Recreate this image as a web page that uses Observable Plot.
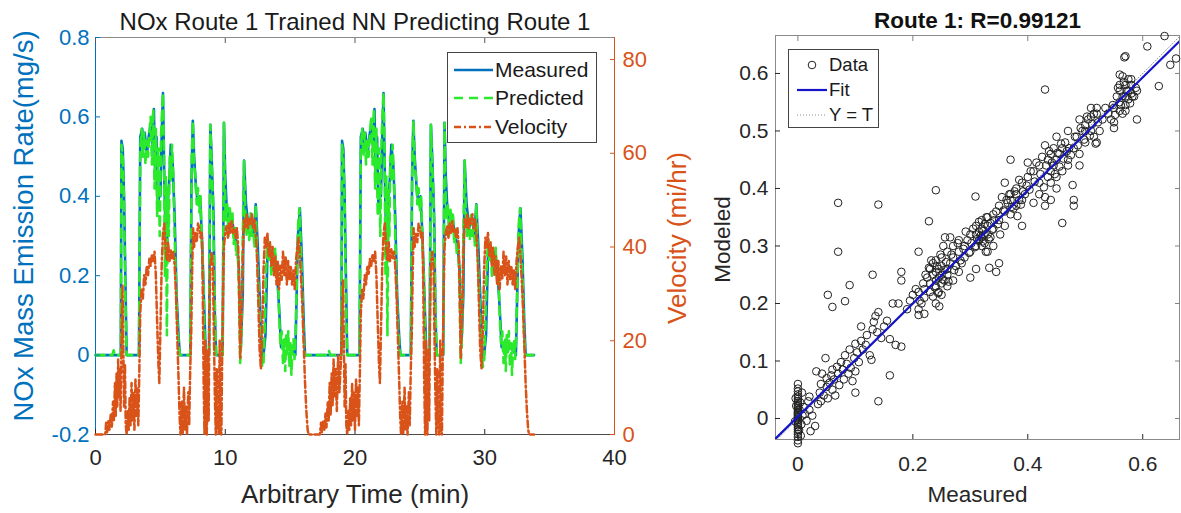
<!DOCTYPE html>
<html><head><meta charset="utf-8">
<script src="https://cdn.jsdelivr.net/npm/d3@7"></script>
<script src="https://cdn.jsdelivr.net/npm/@observablehq/plot@0.6"></script>
<style>
body{margin:0;background:#fff;font-family:"Liberation Sans",Arial,Helvetica,sans-serif;}
#wrap{position:relative;width:1181px;height:513px;overflow:hidden;background:#fff;}
.legend{position:absolute;background:#fff;border:1px solid #444;box-sizing:border-box;}
.legend svg{display:block;}
</style></head><body><div id="wrap"></div>
<script>
// ---------- Left panel data ----------
const leftTitle = "NOx Route 1 Trained NN Predicting Route 1";
const xLabelLeft = "Arbitrary Time (min)";
const noxLabel = "NOx Mass Emission Rate(mg/s)";
const velLabel = "Velocity (mi/hr)";
const timeTicks = [0, 10, 20, 30, 40];
const noxTicks = [-0.2, 0, 0.2, 0.4, 0.6, 0.8];
const velocityTicks = [0, 20, 40, 60, 80];
const legendLeft = ["Measured", "Predicted", "Velocity"];

// [time (min), NOx (mg/s)]
const measuredSeries = [[0,0],[1.95,0],[2.0,0.54],[2.1,0.52],[2.2,0.40],[2.3,0.2],[2.4,0],[3.35,0],[3.45,0.55],[3.6,0.57],[3.7,0.52],[3.8,0.56],[3.95,0.50],[4.1,0.55],[4.25,0.58],[4.4,0.52],[4.5,0.62],[4.6,0.45],[4.7,0.55],[4.8,0.38],[4.9,0.40],[5.0,0.40],[5.1,0.55],[5.2,0.66],[5.3,0.45],[5.4,0.30],[5.5,0.25],[5.6,0.40],[5.7,0.45],[5.8,0.53],[5.95,0.48],[6.1,0.35],[6.25,0.15],[6.4,0.05],[6.5,0],[7.3,0],[7.4,0.45],[7.5,0.59],[7.6,0.5],[7.75,0.42],[7.9,0.38],[8.05,0.40],[8.2,0.30],[8.35,0.15],[8.5,0],[8.75,0],[8.85,0.58],[8.95,0.5],[9.1,0.35],[9.2,0.1],[9.3,0],[9.8,0],[9.9,0.585],[10.0,0.45],[10.1,0.38],[10.3,0.33],[10.5,0.35],[10.7,0.30],[10.9,0.28],[11.05,0.22],[11.2,0.02],[11.35,0.15],[11.45,0.49],[11.6,0.38],[11.8,0.32],[12.0,0.35],[12.2,0.30],[12.35,0.38],[12.5,0.28],[12.65,0.15],[12.8,0],[12.95,0],[13.1,0.05],[13.25,0.25],[13.4,0.28],[13.6,0.22],[13.8,0.26],[14.0,0.2],[14.15,0.12],[14.3,0.02],[14.5,0.03],[15.0,0.02],[15.4,0],[15.6,0.3],[15.75,0.37],[15.9,0.25],[16.05,0.08],[16.15,0],
[18.95,0],[19.0,0.54],[19.1,0.52],[19.2,0.40],[19.3,0.2],[19.4,0],[20.35,0],[20.45,0.55],[20.6,0.57],[20.7,0.52],[20.8,0.56],[20.95,0.50],[21.1,0.55],[21.25,0.58],[21.4,0.52],[21.5,0.62],[21.6,0.45],[21.7,0.55],[21.8,0.38],[21.9,0.40],[22.0,0.40],[22.1,0.55],[22.2,0.66],[22.3,0.45],[22.4,0.30],[22.5,0.25],[22.6,0.40],[22.7,0.45],[22.8,0.53],[22.95,0.48],[23.1,0.35],[23.25,0.15],[23.4,0.05],[23.5,0],[24.3,0],[24.4,0.45],[24.5,0.59],[24.6,0.5],[24.75,0.42],[24.9,0.38],[25.05,0.40],[25.2,0.30],[25.35,0.15],[25.5,0],[25.75,0],[25.85,0.58],[25.95,0.5],[26.1,0.35],[26.2,0.1],[26.3,0],[26.8,0],[26.9,0.585],[27.0,0.45],[27.1,0.38],[27.3,0.33],[27.5,0.35],[27.7,0.30],[27.9,0.28],[28.05,0.22],[28.2,0.02],[28.35,0.15],[28.45,0.49],[28.6,0.38],[28.8,0.32],[29.0,0.35],[29.2,0.30],[29.35,0.38],[29.5,0.28],[29.65,0.15],[29.8,0],[29.95,0],[30.1,0.05],[30.25,0.25],[30.4,0.28],[30.6,0.22],[30.8,0.26],[31.0,0.2],[31.15,0.12],[31.3,0.02],[31.5,0.03],[32.0,0.02],[32.4,0],[32.6,0.3],[32.75,0.37],[32.9,0.25],[33.05,0.08],[33.15,0],[33.8,0]];

const predictedSeries = [[0,0],[1.3,0],[1.4,0.012],[1.5,0],[1.95,0],[2.0,0.53],[2.1,0.5],[2.2,0.38],[2.3,0.15],[2.4,0],[3.35,0],[3.45,0.52],[3.55,0.57],[3.65,0.5],[3.75,0.56],[3.85,0.48],[3.95,0.54],[4.05,0.5],[4.15,0.56],[4.25,0.6],[4.35,0.48],[4.45,0.62],[4.55,0.42],[4.65,0.57],[4.75,0.35],[4.85,0.52],[4.95,0.3],[5.05,0.55],[5.15,0.63],[5.2,0.66],[5.28,0.5],[5.35,0.2],[5.42,0.45],[5.5,0.05],[5.58,0.42],[5.65,0.3],[5.72,0.5],[5.8,0.44],[5.9,0.53],[6.0,0.45],[6.1,0.3],[6.2,0.18],[6.3,0.08],[6.42,0.02],[6.5,0],[7.3,0],[7.42,0.5],[7.5,0.59],[7.6,0.48],[7.7,0.45],[7.8,0.38],[7.9,0.42],[8.0,0.36],[8.1,0.4],[8.2,0.28],[8.3,0.2],[8.4,0.05],[8.5,0],[8.75,0],[8.85,0.58],[8.95,0.48],[9.05,0.4],[9.15,0.2],[9.25,0.05],[9.3,0],[9.8,0],[9.9,0.585],[9.98,0.42],[10.05,0.34],[10.15,0.38],[10.25,0.3],[10.35,0.37],[10.45,0.33],[10.55,0.36],[10.65,0.28],[10.75,0.32],[10.85,0.25],[10.95,0.27],[11.05,0.18],[11.15,-0.02],[11.25,0.05],[11.35,0.3],[11.45,0.49],[11.55,0.35],[11.65,0.3],[11.75,0.34],[11.85,0.29],[11.95,0.36],[12.05,0.3],[12.15,0.33],[12.25,0.27],[12.35,0.38],[12.45,0.25],[12.55,0.18],[12.7,0.05],[12.85,-0.03],[12.95,-0.02],[13.05,0.08],[13.15,0.22],[13.25,0.29],[13.35,0.24],[13.45,0.28],[13.55,0.2],[13.65,0.25],[13.75,0.21],[13.85,0.27],[13.95,0.19],[14.05,0.22],[14.15,0.1],[14.25,0.03],[14.35,0.06],[14.45,-0.02],[14.55,0.04],[14.62,-0.04],[14.7,0.05],[14.78,0],[14.86,0.06],[14.94,-0.03],[15.02,0.03],[15.1,-0.05],[15.18,0.02],[15.26,0.04],[15.34,-0.01],[15.42,0.05],[15.52,0.2],[15.62,0.33],[15.72,0.37],[15.82,0.28],[15.92,0.18],[16.02,0.06],[16.12,0],
[17.9,0],[18.0,0.01],[18.1,0],[18.95,0],[19.0,0.53],[19.1,0.5],[19.2,0.38],[19.3,0.15],[19.4,0],[20.35,0],[20.45,0.52],[20.55,0.57],[20.65,0.5],[20.75,0.56],[20.85,0.48],[20.95,0.54],[21.05,0.5],[21.15,0.56],[21.25,0.6],[21.35,0.48],[21.45,0.62],[21.55,0.42],[21.65,0.57],[21.75,0.35],[21.85,0.52],[21.95,0.3],[22.05,0.55],[22.15,0.63],[22.2,0.66],[22.28,0.5],[22.35,0.2],[22.42,0.45],[22.5,0.05],[22.58,0.42],[22.65,0.3],[22.72,0.5],[22.8,0.44],[22.9,0.53],[23.0,0.45],[23.1,0.3],[23.2,0.18],[23.3,0.08],[23.42,0.02],[23.5,0],[24.3,0],[24.42,0.5],[24.5,0.59],[24.6,0.48],[24.7,0.45],[24.8,0.38],[24.9,0.42],[25.0,0.36],[25.1,0.4],[25.2,0.28],[25.3,0.2],[25.4,0.05],[25.5,0],[25.75,0],[25.85,0.58],[25.95,0.48],[26.05,0.4],[26.15,0.2],[26.25,0.05],[26.3,0],[26.8,0],[26.9,0.585],[26.98,0.42],[27.05,0.34],[27.15,0.38],[27.25,0.3],[27.35,0.37],[27.45,0.33],[27.55,0.36],[27.65,0.28],[27.75,0.32],[27.85,0.25],[27.95,0.27],[28.05,0.18],[28.15,-0.02],[28.25,0.05],[28.35,0.3],[28.45,0.49],[28.55,0.35],[28.65,0.3],[28.75,0.34],[28.85,0.29],[28.95,0.36],[29.05,0.3],[29.15,0.33],[29.25,0.27],[29.35,0.38],[29.45,0.25],[29.55,0.18],[29.7,0.05],[29.85,-0.03],[29.95,-0.02],[30.05,0.08],[30.15,0.22],[30.25,0.29],[30.35,0.24],[30.45,0.28],[30.55,0.2],[30.65,0.25],[30.75,0.21],[30.85,0.27],[30.95,0.19],[31.05,0.22],[31.15,0.1],[31.25,0.03],[31.35,0.06],[31.45,-0.02],[31.55,0.04],[31.62,-0.04],[31.7,0.05],[31.78,0],[31.86,0.06],[31.94,-0.03],[32.02,0.03],[32.1,-0.05],[32.18,0.02],[32.26,0.04],[32.34,-0.01],[32.42,0.05],[32.52,0.2],[32.62,0.33],[32.72,0.37],[32.82,0.28],[32.92,0.18],[33.02,0.06],[33.12,0],[33.8,0]];

// [time (min), velocity (mi/hr)]
const velocitySeries = [[0,0],[0.75,0],[0.82,2.5],[0.9,0.5],[1.0,3],[1.08,1],[1.18,4.5],[1.26,1.5],[1.35,7],[1.42,3],[1.5,11],[1.56,4],[1.62,13],[1.68,6],[1.75,16],[1.8,8],[1.87,14],[1.93,5],[2.0,18],[2.08,32],[2.13,22],[2.2,6],[2.27,15],[2.33,2],[2.4,0],[2.5,5],[2.56,1],[2.63,8],[2.7,2],[2.78,11],[2.84,3],[2.92,9],[3.0,1],[3.08,12],[3.15,4],[3.22,10],[3.3,2],[3.38,14],[3.45,26],[3.55,31],[3.65,29],[3.75,34],[3.85,32],[3.95,36],[4.05,34],[4.15,37.5],[4.25,36],[4.35,38.5],[4.45,37],[4.55,39],[4.65,34],[4.75,24],[4.85,15],[4.92,11],[5.0,22],[5.1,36],[5.2,43],[5.3,45],[5.4,40],[5.5,37],[5.6,41],[5.7,37],[5.8,39.5],[5.9,37.5],[6.0,39],[6.1,36],[6.2,30],[6.3,21],[6.4,12],[6.48,4],[6.55,0],[6.65,7],[6.72,0],[6.82,10],[6.9,1],[6.98,6],[7.05,0],[7.15,9],[7.22,2],[7.3,14],[7.38,22],[7.45,35],[7.52,44],[7.6,40],[7.7,43],[7.8,41],[7.9,45],[8.0,44],[8.1,42],[8.2,43],[8.27,30],[8.33,12],[8.4,0],[8.47,20],[8.52,6],[8.58,0],[8.66,18],[8.72,3],[8.78,25],[8.85,36],[8.95,39],[9.05,36],[9.12,22],[9.2,8],[9.27,0],[9.35,14],[9.42,2],[9.5,0],[9.57,20],[9.63,1],[9.7,0],[9.76,16],[9.82,28],[9.9,40],[10.0,43],[10.1,44.5],[10.2,42],[10.3,45],[10.4,43],[10.5,45.5],[10.6,43],[10.7,44],[10.8,42],[10.9,44],[11.0,40],[11.08,28],[11.15,16],[11.25,25],[11.35,38],[11.45,46],[11.55,44],[11.65,47],[11.75,44],[11.85,46],[11.95,45],[12.05,47],[12.15,44],[12.25,46],[12.35,43],[12.45,38],[12.55,28],[12.65,18],[12.75,14],[12.85,22],[12.95,35],[13.05,42],[13.15,40],[13.25,43],[13.35,38],[13.45,41],[13.55,36],[13.65,40],[13.75,34],[13.85,38],[13.95,32],[14.05,37],[14.15,31],[14.25,36],[14.35,33],[14.45,39],[14.55,34],[14.65,38],[14.75,32],[14.85,37],[14.95,33],[15.05,36],[15.15,32],[15.25,35],[15.35,31],[15.45,37],[15.55,40],[15.65,42],[15.75,38],[15.85,33],[15.95,27],[16.05,19],[16.15,11],[16.25,5],[16.35,1],[16.42,0],
[17.3,0],[17.38,2.5],[17.45,0.5],[17.55,3],[17.63,1],[17.73,4.5],[17.8,1.5],[17.9,7],[17.97,3],[18.05,11],[18.12,4],[18.2,13],[18.27,6],[18.35,16],[18.42,8],[18.5,14],[18.6,5],[18.7,17],[18.8,9],[18.9,15],[18.97,20],[19.08,33],[19.13,22],[19.2,6],[19.27,15],[19.33,2],[19.4,0],[19.5,5],[19.56,1],[19.63,8],[19.7,2],[19.78,11],[19.84,3],[19.92,9],[20.0,1],[20.08,12],[20.15,4],[20.22,10],[20.3,2],[20.38,14],[20.45,26],[20.55,31],[20.65,29],[20.75,34],[20.85,32],[20.95,36],[21.05,34],[21.15,37.5],[21.25,36],[21.35,38.5],[21.45,37],[21.55,39],[21.65,34],[21.75,24],[21.85,15],[21.92,11],[22.0,22],[22.1,36],[22.2,43],[22.3,45],[22.4,40],[22.5,37],[22.6,41],[22.7,37],[22.8,39.5],[22.9,37.5],[23.0,39],[23.1,36],[23.2,30],[23.3,21],[23.4,12],[23.48,4],[23.55,0],[23.65,7],[23.72,0],[23.82,10],[23.9,1],[23.98,6],[24.05,0],[24.15,9],[24.22,2],[24.3,14],[24.38,22],[24.45,35],[24.52,44],[24.6,40],[24.7,43],[24.8,41],[24.9,45],[25.0,44],[25.1,42],[25.2,43],[25.27,30],[25.33,12],[25.4,0],[25.47,20],[25.52,6],[25.58,0],[25.66,18],[25.72,3],[25.78,25],[25.85,36],[25.95,39],[26.05,36],[26.12,22],[26.2,8],[26.27,0],[26.35,14],[26.42,2],[26.5,0],[26.57,20],[26.63,1],[26.7,0],[26.76,16],[26.82,28],[26.9,40],[27.0,43],[27.1,44.5],[27.2,42],[27.3,45],[27.4,43],[27.5,45.5],[27.6,43],[27.7,44],[27.8,42],[27.9,44],[28.0,40],[28.08,28],[28.15,16],[28.25,25],[28.35,38],[28.45,46],[28.55,44],[28.65,47],[28.75,44],[28.85,46],[28.95,45],[29.05,47],[29.15,44],[29.25,46],[29.35,43],[29.45,38],[29.55,28],[29.65,18],[29.75,14],[29.85,22],[29.95,35],[30.05,42],[30.15,40],[30.25,43],[30.35,38],[30.45,41],[30.55,36],[30.65,40],[30.75,34],[30.85,38],[30.95,32],[31.05,37],[31.15,31],[31.25,36],[31.35,33],[31.45,39],[31.55,34],[31.65,38],[31.75,32],[31.85,37],[31.95,33],[32.05,36],[32.15,32],[32.25,35],[32.35,31],[32.45,37],[32.55,40],[32.65,42],[32.75,38],[32.85,33],[32.95,27],[33.05,19],[33.15,11],[33.25,5],[33.35,1],[33.42,0],[33.8,0]];

// ---------- Right panel data ----------
const rightTitle = "Route 1: R=0.99121";
const scatterXLabel = "Measured";
const scatterYLabel = "Modeled";
const scatterXTicks = [0, 0.2, 0.4, 0.6];
const scatterYTicks = [0, 0.1, 0.2, 0.3, 0.4, 0.5, 0.6];
const scatterXLimits = [-0.039, 0.664];
const scatterYLimits = [-0.0365, 0.666];
const fitSlope = 0.983;
const fitIntercept = 0.0033;
const legendRight = ["Data", "Fit", "Y = T"];

// [measured, modeled]
const scatterPairs = [
[0,0.060],[0,0.052],[0,0.047],[0,0.042],[0,0.038],[0,0.034],[0,0.030],[0,0.027],[0,0.024],[0,0.021],[0,0.018],[0,0.015],[0,0.012],[0,0.010],[0,0.008],[0,0.006],[0,0.004],[0,0.002],[0,0.000],[0,-0.003],[0,-0.006],[0,-0.009],[0,-0.012],[0,-0.015],[0,-0.019],[0,-0.023],[0,-0.027],[0,-0.032],[0,-0.038],[0,-0.043],
[0.004,0.028],[0.006,-0.010],[0.003,0.015],[0.007,0.045],[0.005,-0.030],[0.008,0.005],[0.002,-0.020],[-0.004,0.035],[-0.005,-0.005],[-0.003,0.022],
[0.010,0.020],[0.012,0.008],[0.015,-0.004],[0.018,0.030],[0.020,0.015],[0.020,0.038],[0.022,-0.022],[0.025,0.005],[0.030,-0.013],[0.032,0.082],[0.035,0.025],[0.038,0.045],[0.040,0.030],[0.040,0.060],[0.042,0.078],[0.045,0.040],[0.048,0.105],[0.050,0.055],[0.050,0.070],[0.052,0.035],[0.055,0.062],[0.058,0.075],[0.060,0.050],[0.060,0.085],[0.063,0.068],[0.065,0.040],[0.068,0.090],[0.070,0.078],[0.072,0.058],[0.075,0.098],[0.078,0.085],[0.080,0.068],[0.082,0.110],[0.085,0.095],[0.088,0.078],[0.090,0.120],[0.092,0.088],[0.095,0.065],[0.098,0.105],[0.100,0.045],[0.100,0.082],[0.100,0.130],[0.103,0.115],[0.106,0.098],[0.110,0.160],[0.110,0.135],[0.113,0.120],[0.118,0.128],[0.120,0.145],[0.125,0.110],[0.128,0.102],[0.130,0.155],[0.132,0.168],[0.135,0.178],[0.138,0.150],[0.140,0.030],[0.140,0.185],[0.145,0.140],[0.150,0.160],[0.155,0.170],[0.160,0.075],[0.160,0.138],[0.165,0.200],[0.170,0.128],[0.175,0.200],[0.180,0.255],[0.180,0.240],[0.180,0.125],[0.190,0.190],[0.195,0.205],
[0.070,0.375],[0.140,0.372],[0.070,0.290],[0.052,0.215],[0.060,0.194],[0.082,0.204],[0.090,0.232],[0.130,0.250],
[0.200,0.215],[0.205,0.225],[0.210,0.180],[0.210,0.190],[0.210,0.220],[0.210,0.290],[0.212,0.205],[0.215,0.200],[0.218,0.235],[0.220,0.210],[0.220,0.225],[0.220,0.182],[0.222,0.250],[0.225,0.245],[0.228,0.343],[0.228,0.262],[0.230,0.260],[0.230,0.220],[0.230,0.235],[0.232,0.275],[0.235,0.250],[0.235,0.270],[0.235,0.212],[0.238,0.228],[0.240,0.200],[0.240,0.240],[0.240,0.255],[0.240,0.275],[0.240,0.230],[0.240,0.397],[0.242,0.265],[0.244,0.218],[0.245,0.220],[0.245,0.260],[0.245,0.245],[0.246,0.195],[0.248,0.285],[0.250,0.250],[0.250,0.235],[0.250,0.265],[0.250,0.280],[0.250,0.215],[0.252,0.242],[0.253,0.300],[0.255,0.240],[0.255,0.258],[0.256,0.315],[0.258,0.272],[0.260,0.260],[0.260,0.250],[0.260,0.290],[0.260,0.230],[0.262,0.238],[0.265,0.270],[0.265,0.315],[0.267,0.285],[0.270,0.240],[0.270,0.280],[0.270,0.300],[0.272,0.258],[0.275,0.265],[0.278,0.305],[0.280,0.290],[0.280,0.310],[0.280,0.255],[0.283,0.275],[0.285,0.270],[0.288,0.295],[0.290,0.300],[0.290,0.280],[0.292,0.325],[0.295,0.310],[0.298,0.288],[0.300,0.245],[0.300,0.320],[0.300,0.290],[0.302,0.305],
[0.305,0.330],[0.308,0.298],[0.309,0.386],[0.310,0.320],[0.310,0.300],[0.310,0.335],[0.310,0.260],[0.312,0.312],[0.315,0.310],[0.315,0.325],[0.315,0.342],[0.318,0.318],[0.320,0.330],[0.320,0.300],[0.320,0.315],[0.320,0.345],[0.322,0.308],[0.323,0.327],[0.325,0.320],[0.325,0.305],[0.325,0.338],[0.327,0.290],[0.328,0.350],[0.330,0.335],[0.330,0.320],[0.330,0.350],[0.330,0.290],[0.332,0.312],[0.333,0.262],[0.335,0.315],[0.335,0.340],[0.338,0.328],[0.340,0.355],[0.340,0.330],[0.340,0.300],[0.342,0.345],[0.345,0.360],[0.345,0.255],[0.348,0.338],[0.350,0.270],[0.350,0.345],[0.350,0.370],[0.352,0.320],[0.355,0.385],[0.358,0.362],[0.360,0.360],[0.360,0.410],[0.360,0.335],[0.363,0.380],[0.365,0.375],[0.368,0.390],[0.370,0.380],[0.370,0.390],[0.370,0.450],[0.370,0.355],[0.372,0.368],[0.375,0.365],[0.377,0.395],[0.380,0.390],[0.380,0.370],[0.380,0.400],[0.382,0.352],[0.385,0.380],[0.385,0.415],[0.388,0.372],[0.390,0.380],[0.390,0.335],[0.390,0.410],[0.392,0.395],[0.395,0.390],[0.398,0.405],
[0.400,0.420],[0.400,0.445],[0.403,0.398],[0.405,0.430],[0.410,0.375],[0.410,0.430],[0.412,0.412],[0.415,0.445],[0.420,0.390],[0.420,0.410],[0.420,0.440],[0.422,0.425],[0.425,0.455],[0.428,0.402],[0.430,0.370],[0.430,0.385],[0.430,0.475],[0.430,0.572],[0.432,0.440],[0.435,0.420],[0.435,0.450],[0.437,0.465],[0.440,0.430],[0.440,0.460],[0.440,0.410],[0.440,0.380],[0.442,0.445],[0.445,0.440],[0.445,0.470],[0.447,0.425],[0.450,0.490],[0.450,0.450],[0.450,0.420],[0.450,0.400],[0.452,0.462],[0.455,0.460],[0.455,0.438],[0.458,0.478],[0.460,0.340],[0.460,0.470],[0.460,0.430],[0.462,0.452],[0.465,0.480],[0.468,0.465],[0.470,0.450],[0.470,0.440],[0.470,0.500],[0.472,0.470],[0.475,0.458],[0.478,0.406],[0.480,0.380],[0.480,0.370],[0.480,0.470],[0.482,0.490],[0.485,0.490],[0.487,0.475],[0.490,0.460],[0.490,0.520],[0.490,0.440],[0.492,0.505],[0.495,0.500],[0.498,0.485],
[0.500,0.480],[0.500,0.510],[0.500,0.500],[0.503,0.525],[0.505,0.520],[0.508,0.492],[0.510,0.525],[0.510,0.500],[0.510,0.540],[0.512,0.512],[0.515,0.490],[0.515,0.530],[0.518,0.478],[0.520,0.530],[0.520,0.480],[0.520,0.540],[0.522,0.515],[0.525,0.500],[0.530,0.520],[0.535,0.540],[0.540,0.530],[0.545,0.520],[0.548,0.545],[0.550,0.540],[0.550,0.505],[0.550,0.515],[0.552,0.528],[0.555,0.560],[0.557,0.575],[0.560,0.550],[0.560,0.580],[0.560,0.570],[0.560,0.535],[0.560,0.598],[0.562,0.545],[0.565,0.560],[0.565,0.595],[0.565,0.530],[0.567,0.585],[0.570,0.545],[0.570,0.580],[0.570,0.630],[0.570,0.560],[0.570,0.535],[0.572,0.570],[0.575,0.570],[0.575,0.555],[0.575,0.590],[0.578,0.548],[0.580,0.590],[0.580,0.565],[0.580,0.580],[0.582,0.560],[0.585,0.560],[0.588,0.575],[0.590,0.520],[0.590,0.570],
[0.568,0.628],[0.608,0.647],[0.628,0.578],[0.638,0.665],[0.648,0.615],[0.658,0.626]
];

// ---------- Rendering ----------
const FONT = '"Liberation Sans", Arial, Helvetica, sans-serif';
const wrap = document.getElementById("wrap");
function place(el, left, top) {
  el.style.position = "absolute";
  el.style.left = left + "px";
  el.style.top = top + "px";
  wrap.appendChild(el);
}
const rows = arr => arr.map(([t, v]) => ({t, v}));
const txt = d => d;
const centered = {textAnchor: "middle", lineAnchor: "middle", text: txt};

const BLUE = "#0072BD", ORANGE = "#D95319", GREEN = "#2BEA2B";
const leftDims = {width: 720, height: 513, marginLeft: 95, marginRight: 106, marginTop: 37, marginBottom: 79,
  style: {background: "transparent", fontFamily: FONT, overflow: "visible"}};

const noxPlot = Plot.plot({
  ...leftDims,
  x: {domain: [0, 40], axis: null},
  y: {domain: [-0.2, 0.8], axis: null},
  marks: [
    Plot.frame({anchor: "top", stroke: "#8a8a8a"}),
    Plot.frame({anchor: "bottom", stroke: "#4a4a4a"}),
    Plot.frame({anchor: "left", stroke: BLUE}),
    Plot.line(rows(measuredSeries), {x: "t", y: "v", stroke: BLUE, strokeWidth: 2.6}),
    Plot.line(rows(predictedSeries), {x: "t", y: "v", stroke: GREEN, strokeWidth: 2.6, strokeDasharray: "9,6"}),
    Plot.axisX({ticks: timeTicks, tickSize: -5, tickPadding: 20, fontSize: 22, color: "#262626", label: null, tickFormat: d => String(d)}),
    Plot.axisX({anchor: "top", ticks: timeTicks, tickSize: -5, tickFormat: () => "", label: null, color: "#555"}),
    Plot.axisY({ticks: noxTicks, tickSize: -5, tickPadding: 11, fontSize: 22, color: BLUE, label: null, tickFormat: d => String(d)}),
    Plot.text([leftTitle], {...centered, frameAnchor: "top", dy: -15, fontSize: 24, fill: "#1a1a1a"}),
    Plot.text([xLabelLeft], {...centered, frameAnchor: "bottom", dy: 60, fontSize: 26, fill: "#262626"}),
    Plot.text([noxLabel], {...centered, frameAnchor: "left", dx: -71, dy: -10, rotate: -90, fontSize: 27.5, fill: BLUE})
  ]
});
place(noxPlot, 0, 0);

const velPlot = Plot.plot({
  ...leftDims,
  x: {domain: [0, 40], axis: null},
  y: {domain: [0, 84.7], axis: null},
  marks: [
    Plot.frame({anchor: "right", stroke: ORANGE}),
    Plot.line(rows(velocitySeries), {x: "t", y: "v", stroke: ORANGE, strokeWidth: 2.5, strokeDasharray: "7,3,2,3"}),
    Plot.axisY({anchor: "right", ticks: velocityTicks, tickSize: -5, tickPadding: 13, fontSize: 22, color: ORANGE, label: null, tickFormat: d => String(d)}),
    Plot.text([velLabel], {...centered, frameAnchor: "right", dx: 63, dy: 2, rotate: -90, fontSize: 26, fill: ORANGE})
  ]
});
place(velPlot, 0, 0);

const fitRows = scatterXLimits.map(x => ({x, y: fitSlope * x + fitIntercept}));
const identityRows = scatterXLimits.map(x => ({x, y: x}));

const scPlot = Plot.plot({
  width: 481, height: 513, marginLeft: 75, marginRight: 2, marginTop: 35, marginBottom: 74,
  style: {background: "transparent", fontFamily: FONT, overflow: "visible"},
  x: {domain: scatterXLimits, axis: null},
  y: {domain: scatterYLimits, axis: null},
  marks: [
    Plot.frame({stroke: "#8a8a8a"}),
    Plot.line(identityRows, {x: "x", y: "y", stroke: "#909090", strokeWidth: 1, strokeDasharray: "1,2", clip: true}),
    Plot.dot(scatterPairs, {x: d => d[0], y: d => d[1], r: 3.8, stroke: "#222", strokeWidth: 1, fill: "none"}),
    Plot.line(fitRows, {x: "x", y: "y", stroke: "#1414C8", strokeWidth: 2.2, clip: true}),
    Plot.axisX({ticks: scatterXTicks, tickSize: -5, tickPadding: 22, fontSize: 21, color: "#262626", label: null, tickFormat: d => String(d)}),
    Plot.axisX({anchor: "top", ticks: scatterXTicks, tickSize: -5, tickFormat: () => "", label: null, color: "#808080"}),
    Plot.axisY({ticks: scatterYTicks, tickSize: -5, tickPadding: 12, fontSize: 21, color: "#262626", label: null, tickFormat: d => String(d)}),
    Plot.axisY({anchor: "right", ticks: scatterYTicks, tickSize: -5, tickFormat: () => "", label: null, color: "#808080"}),
    Plot.text([rightTitle], {...centered, frameAnchor: "top", dy: -15, fontSize: 22.5, fontWeight: "bold", fill: "#111"}),
    Plot.text([scatterXLabel], {...centered, frameAnchor: "bottom", dy: 55, fontSize: 22.5, fill: "#262626"}),
    Plot.text([scatterYLabel], {...centered, frameAnchor: "left", dx: -53, dy: 2, rotate: -90, fontSize: 22.5, fill: "#262626"})
  ]
});
place(scPlot, 700, 0);

// ---------- Legends ----------
const NS = "http://www.w3.org/2000/svg";
function legendBox(left, top, w, h, items, fontSize) {
  const div = document.createElement("div");
  div.className = "legend";
  div.style.width = w + "px"; div.style.height = h + "px";
  const svg = document.createElementNS(NS, "svg");
  svg.setAttribute("width", w - 2); svg.setAttribute("height", h - 2);
  items.forEach(it => {
    if (it.kind === "line") {
      const l = document.createElementNS(NS, "line");
      l.setAttribute("x1", it.x1); l.setAttribute("x2", it.x2);
      l.setAttribute("y1", it.y); l.setAttribute("y2", it.y);
      l.setAttribute("stroke", it.stroke); l.setAttribute("stroke-width", it.width);
      if (it.dash) l.setAttribute("stroke-dasharray", it.dash);
      svg.appendChild(l);
    } else if (it.kind === "circle") {
      const c = document.createElementNS(NS, "circle");
      c.setAttribute("cx", it.x); c.setAttribute("cy", it.y); c.setAttribute("r", 3.8);
      c.setAttribute("fill", "none"); c.setAttribute("stroke", "#222"); c.setAttribute("stroke-width", 1);
      svg.appendChild(c);
    }
    if (it.label) {
      const t = document.createElementNS(NS, "text");
      t.setAttribute("x", it.tx); t.setAttribute("y", it.y);
      t.setAttribute("dy", "0.35em");
      t.setAttribute("font-family", FONT); t.setAttribute("font-size", fontSize);
      t.setAttribute("fill", "#1a1a1a");
      t.textContent = it.label;
      svg.appendChild(t);
    }
  });
  div.appendChild(svg);
  place(div, left, top);
}
legendBox(447, 52, 150, 91, [
  {kind: "line", x1: 6, x2: 45, y: 17, stroke: BLUE, width: 2.6, label: legendLeft[0], tx: 47},
  {kind: "line", x1: 6, x2: 45, y: 45, stroke: GREEN, width: 2.6, dash: "9,6", label: legendLeft[1], tx: 47},
  {kind: "line", x1: 6, x2: 45, y: 74, stroke: ORANGE, width: 2.6, dash: "7,3,2,3", label: legendLeft[2], tx: 47}
], 21);
legendBox(788, 49, 91, 79, [
  {kind: "circle", x: 23, y: 15, label: legendRight[0], tx: 40},
  {kind: "line", x1: 8, x2: 38, y: 40, stroke: "#1414C8", width: 2.2, label: legendRight[1], tx: 40},
  {kind: "line", x1: 8, x2: 38, y: 65, stroke: "#909090", width: 1, dash: "1,2", label: legendRight[2], tx: 40}
], 18.5);
</script></body></html>
